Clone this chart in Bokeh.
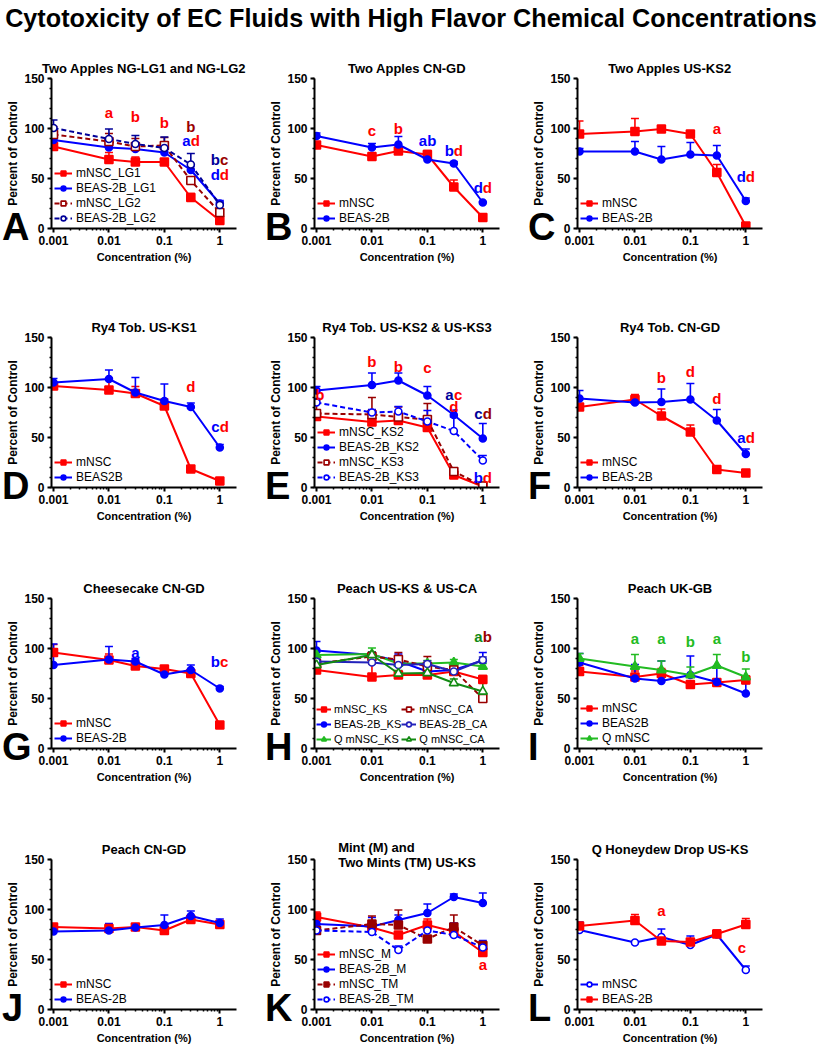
from bokeh.plotting import figure
from bokeh.models import Range1d, FixedTicker, NumeralTickFormatter, Div
from bokeh.layouts import column, row
from bokeh.core.properties import value
from bokeh.embed import file_html
from bokeh.resources import INLINE

FONT = "Liberation Sans"
RED = "#ff0000"
BLUE = "#0000ff"
DRED = "#990000"
NAVY = "#000099"
GREEN = "#22bb22"
DGREEN = "#138a13"

MAIN_TITLE = "Cytotoxicity of EC Fluids with High Flavor Chemical Concentrations"
PANEL_LETTERS = ["A", "B", "C", "D", "E", "F", "G", "H", "I", "J", "K", "L"]
CONC = [0.001, 0.01, 0.03, 0.1, 0.3, 1.0]
X_TICKS = [0.001, 0.01, 0.1, 1.0]
X_TICK_LABELS = ["0.001", "0.01", "0.1", "1"]
Y_TICKS = [0, 50, 100, 150]

# ---- Panel A
A_mNSC_LG1 = [82, 69, 66.5, 66.5, 31, 8]
A_mNSC_LG1_err = [2, 7, 5, 2, 4, 2]
A_BEAS_LG1 = [88.5, 81, 79.5, 76, 58.5, 25]
A_BEAS_LG1_err = [3, 5, 4, 3, 4, 3]
A_mNSC_LG2 = [94, 87, 82, 83, 48, 16]
A_mNSC_LG2_err = [8, 8, 8, 8, 3, 2]
A_BEAS_LG2 = [100.5, 89.5, 84.5, 80.5, 64, 23.5]
A_BEAS_LG2_err = [8, 10, 8.5, 11, 11, 3]
A_ANN = [(0.01, 116, "a", [RED]), (0.03, 112, "b", [RED]), (0.1, 106, "b", [RED]),
         (0.3, 102, "b", [DRED]), (0.3, 88, "ad", [BLUE, RED]),
         (1.0, 69, "bc", [NAVY, DRED]), (1.0, 54, "dd", [BLUE, RED])]

# ---- Panel B
B_mNSC = [83.5, 72, 77.5, 74, 41.5, 11]
B_mNSC_err = [2, 2, 3, 4, 7, 1]
B_BEAS = [92.5, 81, 84, 69, 65, 26]
B_BEAS_err = [3, 4, 8, 3, 2, 1]
B_ANN = [(0.01, 98.5, "c", [RED]), (0.03, 100, "b", [RED]), (0.1, 88.5, "ab", [BLUE, BLUE]),
         (0.3, 78.5, "bd", [BLUE, RED]), (1.0, 41, "dd", [BLUE, RED])]

# ---- Panel C
C_mNSC = [94.5, 97, 99.5, 94.5, 56, 2.5]
C_mNSC_err = [13, 13, 1, 3, 8, 1]
C_BEAS = [77, 77, 69, 74, 73, 27.5]
C_BEAS_err = [3, 10, 13, 12, 10, 3]
C_ANN = [(0.3, 100, "a", [RED]), (1.0, 52, "dd", [BLUE, RED])]

# ---- Panel D
D_mNSC = [101.5, 97.5, 94, 81.5, 18.5, 6.5]
D_mNSC_err = [3, 12, 7, 7, 2, 1]
D_BEAS = [105, 108.5, 95, 86.5, 80.5, 40]
D_BEAS_err = [4, 9, 15, 17, 4, 3]
D_ANN = [(0.3, 101, "d", [RED]), (1.0, 61, "cd", [BLUE, RED])]

# ---- Panel E
E_mNSC_KS2 = [71, 65.5, 67, 60, 12.5, 1]
E_mNSC_KS2_err = [3, 3, 3, 3, 2, 1]
E_BEAS_KS2 = [97, 102.5, 107, 92, 72.5, 49]
E_BEAS_KS2_err = [4, 12, 7.5, 9, 5, 15]
E_mNSC_KS3 = [74, 73, 70.5, 68, 16, 1.5]
E_mNSC_KS3_err = [13, 17, 10, 16, 3, 1]
E_BEAS_KS3 = [85, 75, 76, 66, 56.5, 27]
E_BEAS_KS3_err = [4, 3, 5, 11, 14, 5]
E_ANN = [(0.00115, 93, "b", [RED]), (0.01, 126, "b", [RED]), (0.03, 121.5, "b", [RED]),
         (0.1, 120, "c", [RED]), (0.3, 93, "ac", [NAVY, RED]), (0.3, 81, "d", [RED]),
         (1.0, 74, "cd", [NAVY, DRED]), (1.0, 10, "bd", [BLUE, RED])]

# ---- Panel F
F_mNSC = [80.5, 88, 71.5, 55.5, 18, 14.5]
F_mNSC_err = [3, 5, 7, 7, 1, 1]
F_BEAS = [89, 85, 85.5, 88, 67, 33.5]
F_BEAS_err = [8, 2, 13, 16, 11, 5]
F_ANN = [(0.03, 110, "b", [RED]), (0.1, 116, "d", [RED]), (0.3, 89, "d", [RED]),
         (1.0, 50, "ad", [BLUE, RED])]

# ---- Panel G
G_mNSC = [96, 88.5, 82.5, 79.5, 75, 23.5]
G_mNSC_err = [8, 6, 6, 3, 3, 1]
G_BEAS = [83.5, 89, 87, 74, 78.5, 60]
G_BEAS_err = [21, 13, 3, 1, 5, 2]
G_ANN = [(0.03, 96, "a", [BLUE]), (1.0, 87, "bc", [BLUE, RED])]

# ---- Panel H
H_mNSC_KS = [78.5, 71.5, 73.5, 73.5, 77, 69]
H_mNSC_KS_err = [3, 13, 3, 3, 3, 4]
H_BEAS_KS = [98, 93.5, 87.5, 77, 78.5, 88]
H_BEAS_KS_err = [9, 3, 7, 3, 3, 8]
H_QmNSC_KS = [93.5, 94.5, 85, 85, 86, 82]
H_QmNSC_KS_err = [3, 6, 3, 3, 3, 3]
H_mNSC_CA = [85, 92, 89, 82, 78.5, 50]
H_mNSC_CA_err = [3, 3, 7, 10, 3, 5]
H_BEAS_CA = [87, 86, 83.5, 84.5, 77, 88.5]
H_BEAS_CA_err = [3, 3, 3, 3, 3, 3]
H_QmNSC_CA = [83.5, 93.5, 75, 75.5, 65.5, 57]
H_QmNSC_CA_err = [3, 3, 3, 3, 4, 10]
H_ANN = [(1.0, 112, "ab", [DGREEN, DRED])]

# ---- Panel I
I_mNSC = [77, 71.5, 75, 64, 66, 68.5]
I_mNSC_err = [6, 6, 5, 2, 2, 4]
I_BEAS = [86, 70, 67.5, 73.5, 66.5, 55]
I_BEAS_err = [9, 14, 20, 19, 16, 10]
I_QmNSC = [90, 82, 78.5, 73.5, 83, 71.5]
I_QmNSC_err = [5, 12, 9, 8, 11, 8]
I_ANN = [(0.01, 110, "a", [GREEN]), (0.03, 110, "a", [GREEN]), (0.1, 107, "b", [GREEN]),
         (0.3, 110, "a", [GREEN]), (1.0, 92, "b", [GREEN])]

# ---- Panel J
J_mNSC = [82.5, 81, 82.5, 79, 90, 85]
J_mNSC_err = [2, 3, 2, 2, 3, 3]
J_BEAS = [78, 79, 82, 84.5, 93.5, 86.5]
J_BEAS_err = [1, 7, 1, 10, 5, 4]
J_ANN = []

# ---- Panel K
K_mNSC_M = [92.5, 82, 74.5, 84.5, 78, 57]
K_mNSC_M_err = [5, 3, 3, 6, 3, 3]
K_BEAS_M = [85.5, 83, 89.5, 96.5, 112.5, 106.5]
K_BEAS_M_err = [3, 9, 5, 9, 3, 10]
K_mNSC_TM = [79, 85.5, 84.5, 70.5, 82.5, 64]
K_mNSC_TM_err = [3, 8, 15, 3, 12, 3]
K_BEAS_TM = [79, 77.5, 59.5, 79, 74.5, 62]
K_BEAS_TM_err = [2, 2, 4, 2, 12, 7]
K_ANN = [(1.0, 45.5, "a", [RED])]

# ---- Panel L
L_mNSC = [79.5, 67, 72.5, 64.5, 75, 39.5]
L_mNSC_err = [8, 1, 8, 9, 4, 4]
L_BEAS = [83.5, 89, 68.5, 67.5, 75.5, 85]
L_BEAS_err = [3, 6, 4, 3, 4, 6]
L_ANN = [(0.03, 99.5, "a", [RED]), (0.85, 62, "c", [RED])]

MARKER_SIZE = {"square": 8, "circle": 7, "triangle": 9}

# layout geometry (pixels)
COL_W = 263
BORDER_L = 51
FRAME_W = 185
DIV_H = 33
ROWS = [dict(height=261, bt=45, bb=66, fh=150),
        dict(height=261, bt=43, bb=68, fh=150),
        dict(height=261, bt=43, bb=68, fh=150),
        dict(height=231, bt=43, bb=38, fh=150)]


def make_panel(title, series, anns, height, bt, bb, ncols=1, title_standoff=5,
               legend_font="12px"):
    p = figure(width=COL_W, height=height, x_axis_type="log",
               x_range=Range1d(0.00092, 2.0), y_range=Range1d(0, 150),
               output_backend="svg", toolbar_location=None, title=title,
               min_border_left=BORDER_L, min_border_right=COL_W - BORDER_L - FRAME_W,
               min_border_top=bt, min_border_bottom=bb)
    p.outline_line_color = None
    p.border_fill_alpha = 0
    p.xgrid.visible = False
    p.ygrid.visible = False
    p.title.align = "center"
    p.title.text_font = FONT
    p.title.text_font_size = "13px"
    p.title.text_font_style = "bold"
    p.title.text_color = "black"
    p.title.standoff = title_standoff

    minors = [m * d for d in (0.001, 0.01, 0.1) for m in range(2, 10)]
    p.xaxis.ticker = FixedTicker(ticks=X_TICKS, minor_ticks=minors)
    p.xaxis.formatter = NumeralTickFormatter(format="0.[000]")
    p.xaxis.major_label_overrides = dict(zip(X_TICKS, X_TICK_LABELS))
    p.yaxis.ticker = FixedTicker(ticks=Y_TICKS, minor_ticks=list(range(0, 151, 10)))
    p.xaxis.axis_label = "Concentration (%)"
    p.yaxis.axis_label = "Percent of Control"
    for ax in (p.xaxis[0], p.yaxis[0]):
        ax.axis_line_width = 2
        ax.axis_line_color = "black"
        ax.major_tick_line_width = 2
        ax.major_tick_line_color = "black"
        ax.major_tick_in = 0
        ax.major_tick_out = 4
        ax.minor_tick_line_width = 1.5
        ax.minor_tick_line_color = "black"
        ax.minor_tick_in = 0
        ax.minor_tick_out = 2
        ax.major_label_text_font = FONT
        ax.major_label_text_font_style = "bold"
        ax.major_label_text_font_size = "12px"
        ax.major_label_text_color = "black"
        ax.major_label_standoff = 3
        ax.axis_label_text_font = FONT
        ax.axis_label_text_font_style = "bold"
        ax.axis_label_text_color = "black"
    p.xaxis.axis_label_standoff = 3
    p.yaxis.axis_label_standoff = 1
    p.xaxis.axis_label_text_font_size = "11px"
    p.yaxis.axis_label_text_font_size = "12px"

    # error bars (upper)
    for (label, ys, errs, color, marker, filled, dashed) in series:
        tops = [y + e for y, e in zip(ys, errs)]
        p.segment(x0=CONC, y0=ys, x1=CONC, y1=tops, line_color=color, line_width=1.6)
        p.scatter(x=CONC, y=tops, marker="dash", size=8, line_color=color, line_width=1.6)
    # lines + markers
    for (label, ys, errs, color, marker, filled, dashed) in series:
        p.line(CONC, ys, line_color=color, line_width=2,
               line_dash="5 3" if dashed else "solid", legend_label=label)
        p.scatter(CONC, ys, marker=marker, size=MARKER_SIZE[marker],
                  fill_color=color if filled else "white", line_color=color,
                  line_width=1.6, legend_label=label)

    # significance letters
    xs, ys_, chars, cols, offs = [], [], [], [], []
    for (x, y, txt, colors) in anns:
        n = len(txt)
        for i, ch in enumerate(txt):
            xs.append(x)
            ys_.append(y)
            chars.append(ch)
            cols.append(colors[i])
            offs.append((i - (n - 1) / 2) * 8.8)
    if xs:
        p.text(x=xs, y=ys_, text=chars, text_color=cols, x_offset=offs,
               text_font=value(FONT), text_font_style="bold", text_font_size="15px",
               text_align="center", text_baseline="middle")

    leg = p.legend[0]
    leg.location = "bottom_left"
    leg.background_fill_alpha = 0
    leg.border_line_color = None
    leg.label_text_font = FONT
    leg.label_text_font_size = legend_font
    leg.label_text_color = "black"
    leg.label_height = 15
    leg.glyph_height = 12
    leg.glyph_width = 18
    leg.spacing = 0
    leg.padding = 2
    leg.margin = 3
    leg.label_standoff = 4
    if ncols > 1:
        leg.ncols = ncols
        leg.nrows = 3
        leg.orientation = "vertical"
        leg.glyph_width = 15
        leg.label_standoff = 3
        leg.padding = 0
        leg.margin = 2
    return p


def rgeo(i):
    r = ROWS[i]
    return dict(height=r["height"], bt=r["bt"], bb=r["bb"])


pA = make_panel("Two Apples NG-LG1 and NG-LG2", [
    ("mNSC_LG1", A_mNSC_LG1, A_mNSC_LG1_err, RED, "square", True, False),
    ("BEAS-2B_LG1", A_BEAS_LG1, A_BEAS_LG1_err, BLUE, "circle", True, False),
    ("mNSC_LG2", A_mNSC_LG2, A_mNSC_LG2_err, DRED, "square", False, True),
    ("BEAS-2B_LG2", A_BEAS_LG2, A_BEAS_LG2_err, NAVY, "circle", False, True),
], A_ANN, **rgeo(0))
pB = make_panel("Two Apples CN-GD", [
    ("mNSC", B_mNSC, B_mNSC_err, RED, "square", True, False),
    ("BEAS-2B", B_BEAS, B_BEAS_err, BLUE, "circle", True, False),
], B_ANN, **rgeo(0))
pC = make_panel("Two Apples US-KS2", [
    ("mNSC", C_mNSC, C_mNSC_err, RED, "square", True, False),
    ("BEAS-2B", C_BEAS, C_BEAS_err, BLUE, "circle", True, False),
], C_ANN, **rgeo(0))

pD = make_panel("Ry4 Tob. US-KS1", [
    ("mNSC", D_mNSC, D_mNSC_err, RED, "square", True, False),
    ("BEAS2B", D_BEAS, D_BEAS_err, BLUE, "circle", True, False),
], D_ANN, **rgeo(1))
pE = make_panel("Ry4 Tob. US-KS2 & US-KS3", [
    ("mNSC_KS2", E_mNSC_KS2, E_mNSC_KS2_err, RED, "square", True, False),
    ("BEAS-2B_KS2", E_BEAS_KS2, E_BEAS_KS2_err, BLUE, "circle", True, False),
    ("mNSC_KS3", E_mNSC_KS3, E_mNSC_KS3_err, DRED, "square", False, True),
    ("BEAS-2B_KS3", E_BEAS_KS3, E_BEAS_KS3_err, BLUE, "circle", False, True),
], E_ANN, **rgeo(1))
pF = make_panel("Ry4 Tob. CN-GD", [
    ("mNSC", F_mNSC, F_mNSC_err, RED, "square", True, False),
    ("BEAS-2B", F_BEAS, F_BEAS_err, BLUE, "circle", True, False),
], F_ANN, **rgeo(1))

pG = make_panel("Cheesecake CN-GD", [
    ("mNSC", G_mNSC, G_mNSC_err, RED, "square", True, False),
    ("BEAS-2B", G_BEAS, G_BEAS_err, BLUE, "circle", True, False),
], G_ANN, **rgeo(2))
pH = make_panel("Peach US-KS & US-CA", [
    ("mNSC_KS", H_mNSC_KS, H_mNSC_KS_err, RED, "square", True, False),
    ("BEAS-2B_KS", H_BEAS_KS, H_BEAS_KS_err, BLUE, "circle", True, False),
    ("Q mNSC_KS", H_QmNSC_KS, H_QmNSC_KS_err, GREEN, "triangle", True, False),
    ("mNSC_CA", H_mNSC_CA, H_mNSC_CA_err, DRED, "square", False, True),
    ("BEAS-2B_CA", H_BEAS_CA, H_BEAS_CA_err, "#2222bb", "circle", False, False),
    ("Q mNSC_CA", H_QmNSC_CA, H_QmNSC_CA_err, DGREEN, "triangle", False, False),
], H_ANN, ncols=2, legend_font="11px", **rgeo(2))
pI = make_panel("Peach UK-GB", [
    ("mNSC", I_mNSC, I_mNSC_err, RED, "square", True, False),
    ("BEAS2B", I_BEAS, I_BEAS_err, BLUE, "circle", True, False),
    ("Q mNSC", I_QmNSC, I_QmNSC_err, GREEN, "triangle", True, False),
], I_ANN, **rgeo(2))

pJ = make_panel("Peach CN-GD", [
    ("mNSC", J_mNSC, J_mNSC_err, RED, "square", True, False),
    ("BEAS-2B", J_BEAS, J_BEAS_err, BLUE, "circle", True, False),
], J_ANN, **rgeo(3))
pK = make_panel("Mint (M) and\nTwo Mints (TM) US-KS", [
    ("mNSC_M", K_mNSC_M, K_mNSC_M_err, RED, "square", True, False),
    ("BEAS-2B_M", K_BEAS_M, K_BEAS_M_err, BLUE, "circle", True, False),
    ("mNSC_TM", K_mNSC_TM, K_mNSC_TM_err, DRED, "square", True, True),
    ("BEAS-2B_TM", K_BEAS_TM, K_BEAS_TM_err, BLUE, "circle", False, True),
], K_ANN, title_standoff=-21, **rgeo(3))
pL = make_panel("Q Honeydew Drop US-KS", [
    ("mNSC", L_mNSC, L_mNSC_err, BLUE, "circle", False, False),
    ("BEAS-2B", L_BEAS, L_BEAS_err, RED, "square", True, False),
], L_ANN, **rgeo(3))

# panel letters as absolutely positioned HTML text (outside the plot frames)
spans = []
y0 = DIV_H
for ri, r in enumerate(ROWS):
    baseline = y0 + r["bt"] + r["fh"] + 12
    for ci in range(3):
        letter = PANEL_LETTERS[ri * 3 + ci]
        left = ci * COL_W + 2
        spans.append(
            '<span style="position:absolute;left:%dpx;top:%dpx;font-size:38px;line-height:38px;'
            'font-weight:bold;color:black;z-index:50;">%s</span>' % (left, baseline - 32, letter))
    y0 += r["height"]

title_div = Div(
    text=('<div style="position:relative;width:807px;height:33px;overflow:visible;'
          'font-family:\'Liberation Sans\',Arial,sans-serif;">'
          '<div style="width:822px;display:flex;justify-content:center;'
          'font-weight:bold;font-size:25.2px;line-height:30px;white-space:nowrap;color:black;'
          'position:relative;top:3px;">' + MAIN_TITLE + '</div>'
          + "".join(spans) + '</div>'),
    width=807, height=DIV_H, margin=(0, 0, 0, 0),
    styles={"overflow": "visible", "z-index": "50"})

layout = column(title_div, row(pA, pB, pC), row(pD, pE, pF), row(pG, pH, pI), row(pJ, pK, pL))

open("out.html", "w").write(file_html(layout, INLINE))
